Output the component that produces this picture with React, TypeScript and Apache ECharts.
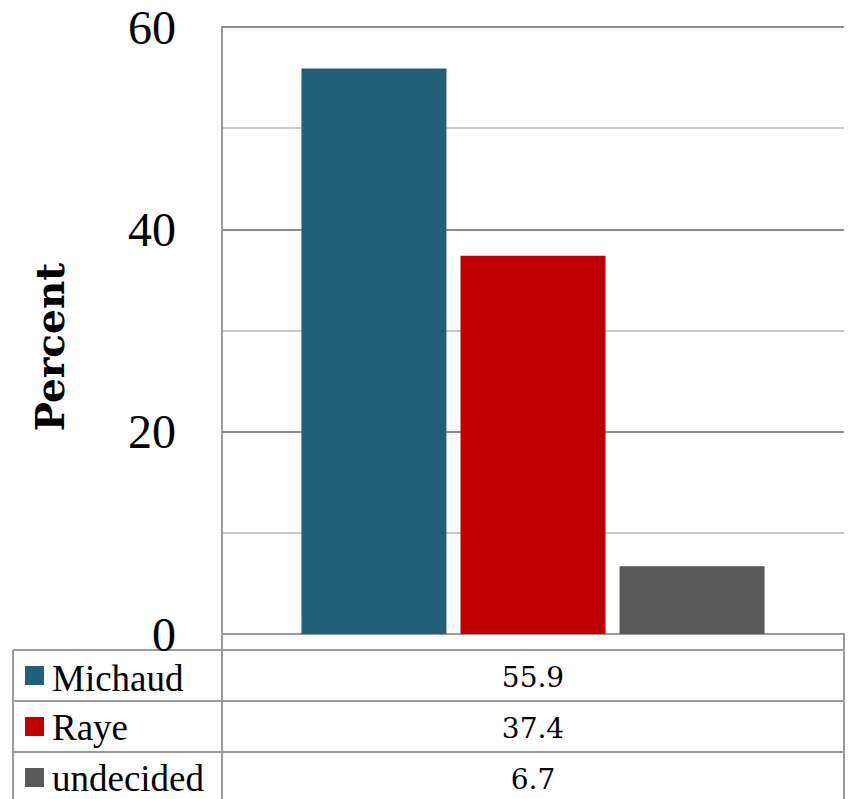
import React, { useEffect, useRef } from "react";
import * as echarts from "echarts";

const categories = [""];
const seriesNames = ["Michaud", "Raye", "undecided"];
const seriesValues = [55.9, 37.4, 6.7];
const seriesColors = ["#206178", "#C00000", "#595959"];
const yTicks = { min: 0, max: 60, interval: 20 };
const yAxisTitle = "Percent";

export default function App() {
  const ref = useRef<HTMLDivElement>(null);
  useEffect(() => {
    if (!ref.current) return;
    const chart = echarts.init(ref.current, undefined, { renderer: "svg" });
    const W = 849;
    const H = 799;
    const gridLeft = 222;
    const gridRight = 5;
    const gridTop = 27;
    const gridBottom = 165;
    const axisY = H - gridBottom; // 634
    const rightX = W - gridRight; // 844
    const tableLeft = 13;
    const firstRowTop = 650;
    const rowH = 51;
    const lineColor = "#9a9a9a";

    const graphics: any[] = [];
    // y axis title
    graphics.push({
      type: "text",
      x: 50,
      y: 347,
      rotation: Math.PI / 2,
      style: {
        text: yAxisTitle,
        fontFamily: "DejaVu Serif",
        fontWeight: "bold",
        fontSize: 39,
        fill: "#000",
        align: "center",
        verticalAlign: "middle",
      },
    });
    // horizontal row lines
    for (let i = 0; i < seriesNames.length; i++) {
      const y = firstRowTop + i * rowH;
      graphics.push({
        type: "line",
        shape: { x1: tableLeft, y1: y, x2: rightX, y2: y },
        style: { stroke: lineColor, lineWidth: 2 },
        silent: true,
      });
    }
    // verticals
    graphics.push({
      type: "line",
      shape: { x1: tableLeft, y1: firstRowTop, x2: tableLeft, y2: H + 5 },
      style: { stroke: lineColor, lineWidth: 2 },
    });
    graphics.push({
      type: "line",
      shape: { x1: gridLeft, y1: axisY, x2: gridLeft, y2: H + 5 },
      style: { stroke: lineColor, lineWidth: 2 },
    });
    graphics.push({
      type: "line",
      shape: { x1: rightX, y1: axisY, x2: rightX, y2: H + 5 },
      style: { stroke: lineColor, lineWidth: 2 },
    });
    // rows content
    seriesNames.forEach((name, i) => {
      const cy = firstRowTop + i * rowH + rowH / 2;
      graphics.push({
        type: "rect",
        shape: { x: 25, y: cy - 9.5, width: 19, height: 19 },
        style: { fill: seriesColors[i] },
      });
      graphics.push({
        type: "text",
        x: 52,
        y: cy + (i === 0 ? 3 : 1),
        style: {
          text: name,
          fontFamily: "Liberation Serif",
          fontSize: 37,
          lineHeight: 30,
          fill: "#000",
          align: "left",
          verticalAlign: "middle",
        },
      });
      graphics.push({
        type: "text",
        x: (gridLeft + rightX) / 2,
        y: cy + 2,
        style: {
          text: seriesValues[i].toFixed(1),
          fontFamily: "DejaVu Serif",
          fontSize: 28,
          fill: "#000",
          align: "center",
          verticalAlign: "middle",
        },
      });
    });

    chart.setOption({
      animation: false,
      backgroundColor: "#fff",
      grid: { left: gridLeft, right: gridRight, top: gridTop, bottom: gridBottom, containLabel: false },
      xAxis: {
        type: "category",
        data: categories,
        axisLine: { show: true, lineStyle: { color: lineColor, width: 2 } },
        axisTick: { show: false },
        axisLabel: { show: false },
      },
      yAxis: {
        type: "value",
        min: yTicks.min,
        max: yTicks.max,
        interval: yTicks.interval,
        axisLine: { show: true, lineStyle: { color: lineColor, width: 2 } },
        axisTick: { show: false },
        axisLabel: {
          margin: 46,
          fontFamily: "Liberation Serif",
          fontSize: 48,
          lineHeight: 36,
          color: "#000",
        },
        splitLine: { show: true, lineStyle: { color: "#8c8c8c", width: 2 } },
        minorTick: { show: false, splitNumber: 2 },
        minorSplitLine: { show: true, lineStyle: { color: "#c8c8c8", width: 2 } },
      },
      series: seriesNames.map((name, i) => ({
        type: "bar",
        name,
        data: [seriesValues[i]],
        barWidth: 145,
        barGap: "9.7%",
        itemStyle: { color: seriesColors[i] },
      })),
      graphic: graphics,
    });
    return () => chart.dispose();
  }, []);
  return <div ref={ref} style={{ width: 849, height: 799, position: "absolute", left: 0, top: 0 }} />;
}
